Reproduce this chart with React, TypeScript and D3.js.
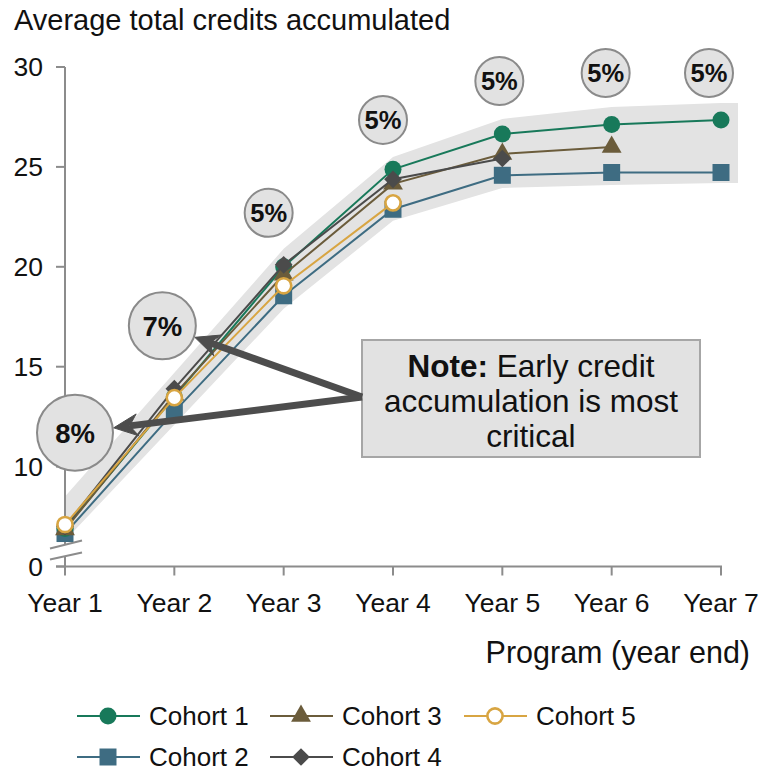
import React from "react";
import * as d3 from "d3";

const years = ["Year 1", "Year 2", "Year 3", "Year 4", "Year 5", "Year 6", "Year 7"];
const cohortNames = ["Cohort 1", "Cohort 2", "Cohort 3", "Cohort 4", "Cohort 5"];
const cohort1 = [6.9, 13.5, 20.0, 24.88, 26.65, 27.12, 27.35];
const cohort2 = [6.65, 12.75, 18.55, 22.88, 24.58, 24.72, 24.72];
const cohort3 = [6.85, 13.6, 19.6, 24.15, 25.65, 26.0];
const cohort4 = [7.0, 13.9, 20.1, 24.38, 25.42];
const cohort5 = [7.1, 13.45, 19.05, 23.2];
const bandUpper = [8.5, 14.7, 20.9, 25.5, 27.4, 28.0, 28.2];
const bandLower = [6.3, 12.1, 17.9, 22.3, 23.95, 24.1, 24.2];
const yTickValues = [5, 10, 15, 20, 25, 30];
const yTickLabels = ["0", "10", "15", "20", "25", "30"];
const growthLabels = ["8%", "7%", "5%", "5%", "5%", "5%", "5%"];
const growthLevels = [11.7, 17.05, 22.7, 27.35, 29.3, 29.7, 29.7];

const W = 763, H = 771;
const FONT = "'Liberation Sans', Arial, Helvetica, sans-serif";
const GRID = "#8c8c8c";

const series = [
  { name: cohortNames[1], values: cohort2, color: "#3e6c82", shape: "square" },
  { name: cohortNames[0], values: cohort1, color: "#18795a", shape: "circle" },
  { name: cohortNames[2], values: cohort3, color: "#6b5c3b", shape: "triangle" },
  { name: cohortNames[3], values: cohort4, color: "#4b4b4b", shape: "diamond" },
  { name: cohortNames[4], values: cohort5, color: "#d8a542", shape: "open" },
];

function Marker({ shape, color, x, y }: { shape: string; color: string; x: number; y: number }) {
  if (shape === "circle") return <circle cx={x} cy={y} r={8.5} fill={color} />;
  if (shape === "open") return <circle cx={x} cy={y} r={7.6} fill="#fff" stroke={color} strokeWidth={2.6} />;
  let p: string | null = null;
  if (shape === "square") p = d3.symbol(d3.symbolSquare, 17 * 17)();
  if (shape === "triangle") p = d3.symbol(d3.symbolTriangle, 170)();
  if (shape === "diamond") p = d3.symbol(d3.symbolSquare, 12.5 * 12.5)();
  const rot = shape === "diamond" ? " rotate(45)" : "";
  return <path d={p || ""} transform={`translate(${x},${y})${rot}`} fill={color} />;
}

function Arrow({ x1, y1, x2, y2 }: { x1: number; y1: number; x2: number; y2: number }) {
  const dx = x2 - x1, dy = y2 - y1;
  const len = Math.hypot(dx, dy);
  const ux = dx / len, uy = dy / len;
  const px = -uy, py = ux;
  const hl = 24, hw = 11, notch = 8;
  const bx = x2 - ux * hl, by = y2 - uy * hl;
  const nx = x2 - ux * (hl - notch), ny = y2 - uy * (hl - notch);
  const head = [
    [x2, y2],
    [bx + px * hw, by + py * hw],
    [nx, ny],
    [bx - px * hw, by - py * hw],
  ];
  return (
    <g fill="#4d4d4d" stroke="#4d4d4d">
      <line x1={x1} y1={y1} x2={nx} y2={ny} strokeWidth={7} />
      <polygon points={head.map((d) => d.join(",")).join(" ")} strokeWidth={1} />
    </g>
  );
}

export default function App() {
  const x = d3.scalePoint<string>().domain(years).range([65, 721]);
  const y = d3.scaleLinear().domain([5, 30]).range([566.5, 67]);
  const axisY = 566.5;
  const axisX = 65;

  const line = d3
    .line<number>()
    .x((_, i) => x(years[i]) as number)
    .y((d) => y(d));

  const bandPad = 17;
  const upperPts: [number, number][] = bandUpper.map((v, i) => [x(years[i]) as number, y(v)]);
  const lowerPts: [number, number][] = bandLower.map((v, i) => [x(years[i]) as number, y(v)]);
  const last = years.length - 1;
  upperPts.push([(x(years[last]) as number) + bandPad, y(bandUpper[last])]);
  lowerPts.push([(x(years[last]) as number) + bandPad, y(bandLower[last])]);
  const bandPath = d3.line()([...upperPts, ...lowerPts.reverse()]) + "Z";

  // annotation circles layout
  const circleDx = [10, -12, -15, -10, -3, -6, -12];
  const circleR = [38, 33.5, 24, 24, 24, 24, 24];
  const circleFont = [27.5, 27.5, 25.5, 25.5, 25.5, 25.5, 25.5];
  const circles = growthLabels.map((lab, i) => ({
    label: lab,
    cx: (x(years[i]) as number) + circleDx[i],
    cy: y(growthLevels[i]),
    r: circleR[i],
    fs: circleFont[i],
  }));

  const note = { x: 362, y: 340, w: 338, h: 117 };
  const arrowStart = { x: note.x, y: 397 };
  const arrowTips = [circles[1], circles[0]].map((c) => {
    const dx = arrowStart.x - c.cx, dy = arrowStart.y - c.cy;
    const l = Math.hypot(dx, dy);
    return { x: c.cx + (dx / l) * (c.r + 1), y: c.cy + (dy / l) * (c.r + 1) };
  });

  const legendItems = [
    { s: series[1], col: 0, row: 0 },
    { s: series[2], col: 1, row: 0 },
    { s: series[4], col: 2, row: 0 },
    { s: series[0], col: 0, row: 1 },
    { s: series[3], col: 1, row: 1 },
  ];
  const legendColX = [77, 270, 464];
  const legendRowY = [716, 757];

  return (
    <svg
      width={W}
      height={H}
      style={{ position: "absolute", left: 0, top: 0, background: "#fff" }}
      fontFamily={FONT}
    >
      <rect x={0} y={0} width={W} height={H} fill="#fff" />
      <text x={14} y={30} fontSize={29} fill="#111">
        Average total credits accumulated
      </text>

      {/* band */}
      <path d={bandPath} fill="#e3e3e3" />

      {/* y axis with break */}
      <g stroke={GRID} strokeWidth={2} fill="none">
        <line x1={axisX} y1={y(30)} x2={axisX} y2={545} />
        <line x1={axisX} y1={556} x2={axisX} y2={axisY} />
        <line x1={50} y1={548.5} x2={82} y2={540.5} />
        <line x1={50} y1={559.5} x2={82} y2={552.5} />
        {yTickValues.map((v) => (
          <line key={v} x1={axisX - 9} y1={y(v)} x2={axisX} y2={y(v)} />
        ))}
        <line x1={axisX - 9} y1={axisY} x2={(x(years[last]) as number) + 1} y2={axisY} />
        {years.map((yr) => (
          <line key={yr} x1={x(yr)} y1={axisY} x2={x(yr)} y2={axisY + 9} />
        ))}
      </g>
      {yTickValues.map((v, i) => (
        <text key={v} x={43} y={y(v) + 9} fontSize={26.5} textAnchor="end" fill="#111">
          {yTickLabels[i]}
        </text>
      ))}
      {years.map((yr) => (
        <text key={yr} x={x(yr)} y={612} fontSize={26.5} textAnchor="middle" fill="#111">
          {yr}
        </text>
      ))}
      <text x={750} y={663} fontSize={30.5} textAnchor="end" fill="#111">
        Program (year end)
      </text>

      {/* series */}
      {series.map((s) => (
        <g key={s.name}>
          <path d={line(s.values) || ""} fill="none" stroke={s.color} strokeWidth={2} />
          {s.values.map((v, i) => (
            <Marker key={i} shape={s.shape} color={s.color} x={x(years[i]) as number} y={y(v)} />
          ))}
        </g>
      ))}

      {/* growth circles */}
      {circles.map((c, i) => (
        <g key={i}>
          <circle cx={c.cx} cy={c.cy} r={c.r} fill="#e2e2e2" stroke="#8a8a8a" strokeWidth={2} />
          <text
            x={c.cx}
            y={c.cy + c.fs * 0.36}
            fontSize={c.fs}
            fontWeight="bold"
            textAnchor="middle"
            fill="#111"
          >
            {c.label}
          </text>
        </g>
      ))}

      {/* note */}
      <rect x={note.x} y={note.y} width={note.w} height={note.h} fill="#e2e2e2" stroke="#a6a6a6" strokeWidth={2} />
      <text x={note.x + note.w / 2} fontSize={31.5} textAnchor="middle" fill="#111">
        <tspan x={note.x + note.w / 2} y={377}>
          <tspan fontWeight="bold">Note:</tspan> Early credit
        </tspan>
        <tspan x={note.x + note.w / 2} y={412}>accumulation is most</tspan>
        <tspan x={note.x + note.w / 2} y={447}>critical</tspan>
      </text>
      {arrowTips.map((t, i) => (
        <Arrow key={i} x1={arrowStart.x} y1={arrowStart.y} x2={t.x} y2={t.y} />
      ))}

      {/* legend */}
      {legendItems.map(({ s, col, row }) => {
        const lx = legendColX[col];
        const ly = legendRowY[row];
        return (
          <g key={s.name}>
            <line x1={lx} y1={ly} x2={lx + 63} y2={ly} stroke={s.color} strokeWidth={2} />
            <Marker shape={s.shape} color={s.color} x={lx + 31} y={ly} />
            <text x={lx + 72} y={ly + 9} fontSize={26} fill="#111">
              {s.name}
            </text>
          </g>
        );
      })}
    </svg>
  );
}
